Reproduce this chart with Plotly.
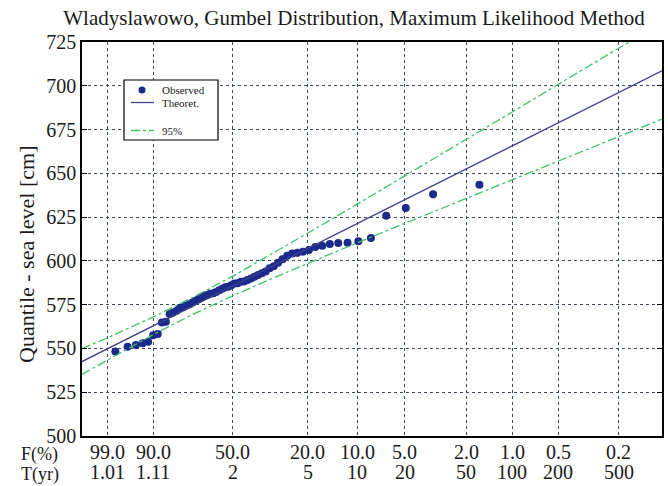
import numpy as np
import plotly.graph_objects as go

# ---- axis labels ----
F_labels = ["99.0", "90.0", "50.0", "20.0", "10.0", "5.0", "2.0", "1.0", "0.5", "0.2"]
T_labels = ["1.01", "1.11", "2", "5", "10", "20", "50", "100", "200", "500"]
T_years = [1.01, 1.11, 2, 5, 10, 20, 50, 100, 200, 500]

# ---- observed maxima (Gumbel reduced variate, level in cm) ----
obs_reduced = [
    -1.414, -1.229, -1.103, -1.002, -0.917, -0.841, -0.772, -0.709, -0.649, -0.592,
    -0.538, -0.486, -0.436, -0.387, -0.339, -0.291, -0.245, -0.199, -0.154, -0.109,
    -0.064, -0.020, 0.025, 0.070, 0.114, 0.159, 0.205, 0.250, 0.296, 0.343,
    0.390, 0.438, 0.487, 0.537, 0.588, 0.640, 0.693, 0.748, 0.805, 0.863,
    0.923, 0.986, 1.051, 1.119, 1.190, 1.265, 1.344, 1.429, 1.519, 1.616,
    1.721, 1.836, 1.963, 2.105, 2.268, 2.459, 2.691, 2.987, 3.401, 4.103,
]
obs_level = [
    548.3, 550.9, 551.9, 553.0, 553.8, 557.6, 558.3, 564.8, 565.2, 569.7,
    570.5, 571.5, 573.3, 573.5, 574.5, 575.3, 576.3, 577.3, 578.2, 579.2,
    580.1, 580.5, 581.2, 581.5, 582.3, 583.2, 584.1, 585.0, 585.3, 586.1,
    587.1, 587.3, 588.1, 588.3, 589.1, 590.0, 591.0, 592.0, 593.0, 594.0,
    595.8, 597.0, 599.0, 601.0, 603.0, 604.2, 604.6, 605.2, 606.2, 608.0,
    608.7, 609.6, 610.2, 610.3, 611.2, 613.0, 625.8, 630.2, 638.0, 643.5,
]

# ---- theoretical Gumbel line ----
theor_reduced = [-1.92, 6.87]
theor_level = [542.5, 708.6]

# ---- 95% confidence bands ----
band_reduced = [-1.92, -1.529, -0.838, -0.2, 0.3665, 1.0, 1.5, 2.25, 2.97, 3.90, 4.60, 5.30, 6.21, 6.87]
band_upper = [549.9, 556.2, 568.0, 579.9, 591.3, 604.8, 615.8, 632.4, 648.4, 669.3, 685.0, 700.9, 721.4, 736.2]
band_lower = [535.2, 543.6, 558.0, 570.2, 580.1, 590.6, 598.6, 610.3, 621.4, 635.7, 646.4, 657.1, 671.0, 681.0]

# Gumbel probability-paper positions of the return-period ticks
tick_pos = [float(-np.log(-np.log(1 - 1 / t))) for t in T_years]

FONT = "Liberation Serif"
TXT = "#1a1a1a"
GREEN = "#3cc46a"
BLUE = "#1c2a8c"
NAVY = "#3b3f8f"

# plot-area geometry (pixels)
L, R, T, B = 82, 662, 42, 436
W, H = 668, 486


def px(xp):
    return (xp - L) / (R - L)


def py(yp):
    return (B - yp) / (B - T)


fig = go.Figure()
fig.add_trace(go.Scatter(x=obs_reduced, y=obs_level, mode="markers", name="Observed",
                         marker=dict(color=BLUE, size=8)))
fig.add_trace(go.Scatter(x=theor_reduced, y=theor_level, mode="lines", name="Theoret.",
                         line=dict(color=NAVY, width=1.3)))
fig.add_trace(go.Scatter(x=band_reduced, y=band_upper, mode="lines", name="95%",
                         line=dict(color=GREEN, width=1.3, dash="dashdot")))
fig.add_trace(go.Scatter(x=band_reduced, y=band_lower, mode="lines", name="95% lower",
                         line=dict(color=GREEN, width=1.3, dash="dashdot")))

fig.update_layout(
    width=W, height=H,
    margin=dict(l=L, r=W - R, t=T, b=H - B),
    paper_bgcolor="white", plot_bgcolor="white",
    font=dict(family=FONT, color=TXT, size=16),
    title=dict(text="Wladyslawowo, Gumbel Distribution, Maximum Likelihood Method",
               x=354 / W, xref="container", xanchor="center",
               y=1 - 18 / H, yref="container", yanchor="middle",
               font=dict(family=FONT, size=21, color=TXT)),
    showlegend=False,
)

fig.update_xaxes(range=[-1.92, 6.87], tickmode="array", tickvals=tick_pos,
                 showticklabels=False, automargin=False,
                 showgrid=True, gridcolor="#3d4a5a", griddash="dot", gridwidth=1.2,
                 showline=True, linecolor="black", linewidth=1.5, mirror=True,
                 ticks="", zeroline=False)
fig.update_yaxes(range=[500, 725], dtick=25, tick0=500, automargin=False,
                 showgrid=True, gridcolor="#3d4a5a", griddash="dot", gridwidth=1.2,
                 showline=True, linecolor="black", linewidth=1.5, mirror="ticks",
                 ticks="inside", ticklen=5, tickcolor="black", zeroline=False,
                 tickfont=dict(family=FONT, size=20, color=TXT))

# two-row x tick labels
for xv, f, t in zip(tick_pos, F_labels, T_labels):
    fig.add_annotation(text=f, xref="x", yref="paper", x=xv, y=0, yanchor="middle",
                       yshift=-(452 - B), showarrow=False,
                       font=dict(family=FONT, size=20, color=TXT))
    fig.add_annotation(text=t, xref="x", yref="paper", x=xv, y=0, yanchor="middle",
                       yshift=-(472 - B), showarrow=False,
                       font=dict(family=FONT, size=20, color=TXT))
fig.add_annotation(text="F(%)", xref="paper", yref="paper", x=px(19), y=0, xanchor="left",
                   yanchor="middle", yshift=-(454 - B), showarrow=False,
                   font=dict(family=FONT, size=18, color=TXT))
fig.add_annotation(text="T(yr)", xref="paper", yref="paper", x=px(19), y=0, xanchor="left",
                   yanchor="middle", yshift=-(474 - B), showarrow=False,
                   font=dict(family=FONT, size=18, color=TXT))

# y axis title
fig.add_annotation(text="Quantile - sea level [cm]", xref="paper", yref="paper",
                   x=px(26), y=py(255), xanchor="center", yanchor="middle",
                   textangle=-90, showarrow=False,
                   font=dict(family=FONT, size=22, color=TXT))

# legend box
fig.add_shape(type="rect", xref="paper", yref="paper",
              x0=px(124), x1=px(218), y0=py(140), y1=py(80),
              line=dict(color="black", width=1.2), fillcolor="white", layer="above")
fig.add_shape(type="circle", xref="paper", yref="paper", xsizemode="pixel", ysizemode="pixel",
              xanchor=px(142), yanchor=py(90), x0=-3.5, x1=3.5, y0=-3.5, y1=3.5,
              line=dict(color=BLUE, width=0), fillcolor=BLUE, layer="above")
fig.add_shape(type="line", xref="paper", yref="paper",
              x0=px(131), x1=px(154), y0=py(102.5), y1=py(102.5),
              line=dict(color=NAVY, width=1.3), layer="above")
fig.add_shape(type="line", xref="paper", yref="paper",
              x0=px(131), x1=px(154), y0=py(130.5), y1=py(130.5),
              line=dict(color=GREEN, width=1.3, dash="dashdot"), layer="above")
for label, yy in [("Observed", 90), ("Theoret.", 102.5), ("95%", 130.5)]:
    fig.add_annotation(text=label, xref="paper", yref="paper", x=px(160), y=py(yy),
                       xanchor="left", yanchor="middle", showarrow=False,
                       font=dict(family=FONT, size=11, color=TXT))

# remove the default page margin so the 668x486 figure fills the window exactly
fig.write_html("out.html", config={"displayModeBar": False},
               post_script="document.body.style.margin='0';document.body.style.overflow='hidden';")
